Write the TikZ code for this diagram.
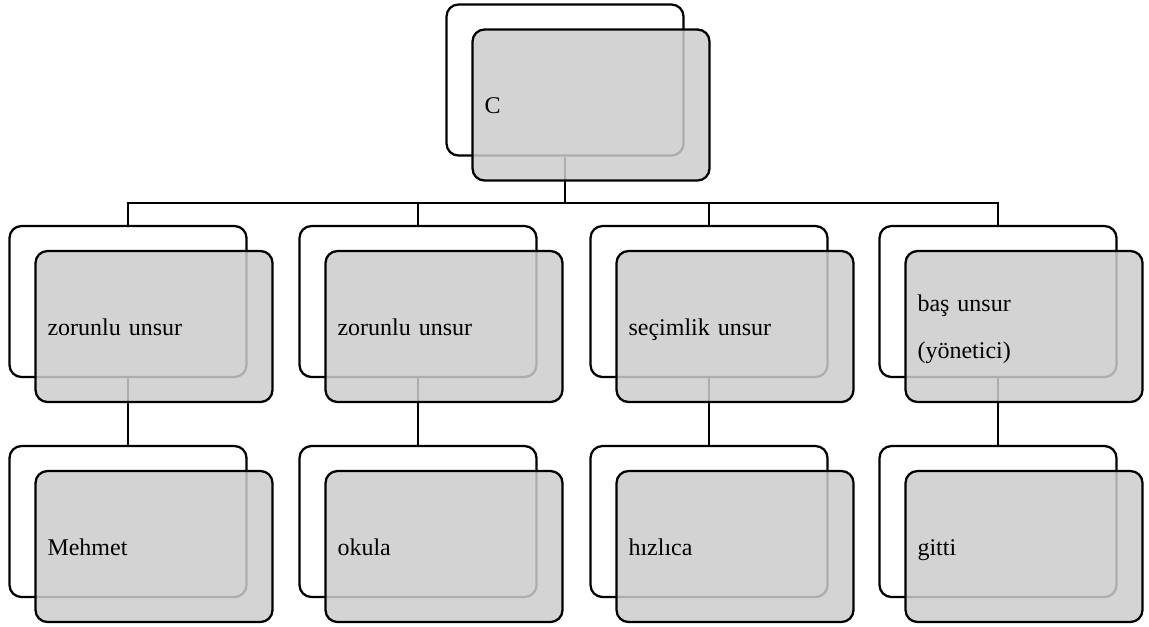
\documentclass[tikz,border=0pt]{standalone}
\usepackage{fontspec}
\setmainfont{Liberation Serif}
\usetikzlibrary{calc}

\begin{document}
\begin{tikzpicture}[
            x=0.75pt, y=-0.75pt,
            back/.style={draw, line width=1.7pt, rounded corners=9pt, fill=white, minimum width=177.75pt, minimum height=113.25pt},
            front/.style={draw, line width=1.7pt, rounded corners=9pt, fill=black!20, fill opacity=0.85, text opacity=1, minimum width=177.75pt, minimum height=113.25pt, inner xsep=9pt, text width=159.75pt, align=left, font=\fontsize{18}{35}\selectfont, execute at begin node=\rule{0pt}{17pt}, execute at end node=\rule[-4.2pt]{0pt}{4.2pt}},
            link/.style={line width=1.6pt}
        ]
            \useasboundingbox (0,0) rectangle (1149,626);

            % back boxes
            \node[back] (c) at (565,80) {};
            \node[back] (zor1) at (128,301.5) {};
            \node[back] (zor2) at (418,301.5) {};
            \node[back] (sec) at (709,301.5) {};
            \node[back] (bas) at (998,301.5) {};
            \node[back] (mehmet) at (128,521.5) {};
            \node[back] (okula) at (418,521.5) {};
            \node[back] (hizlica) at (709,521.5) {};
            \node[back] (gitti) at (998,521.5) {};

            % connectors
            \coordinate (bus) at (565,203);
            \draw[link] (c.south) -- (bus) -| (zor1.north);
            \draw[link] (bus) -| (zor2.north);
            \draw[link] (bus) -| (sec.north);
            \draw[link] (bus) -| (bas.north);
            \draw[link] (zor1.south) -- (mehmet.north);
            \draw[link] (zor2.south) -- (okula.north);
            \draw[link] (sec.south) -- (hizlica.north);
            \draw[link] (bas.south) -- (gitti.north);

            % front boxes
            \node[front] (cF) at ($(c)+(26,25)$) {C};
            \node[front] (zor1F) at ($(zor1)+(26,25)$) {zorunlu unsur};
            \node[front] (zor2F) at ($(zor2)+(26,25)$) {zorunlu unsur};
            \node[front] (secF) at ($(sec)+(26,25)$) {seçimlik unsur};
            \node[front] (basF) at ($(bas)+(26,25)$) {baş unsur\\(yönetici)};
            \node[front] (mehmetF) at ($(mehmet)+(26,25)$) {Mehmet};
            \node[front] (okulaF) at ($(okula)+(26,25)$) {okula};
            \node[front] (hizlicaF) at ($(hizlica)+(26,25)$) {hızlıca};
            \node[front] (gittiF) at ($(gitti)+(26,25)$) {gitti};
        \end{tikzpicture}
\end{document}
